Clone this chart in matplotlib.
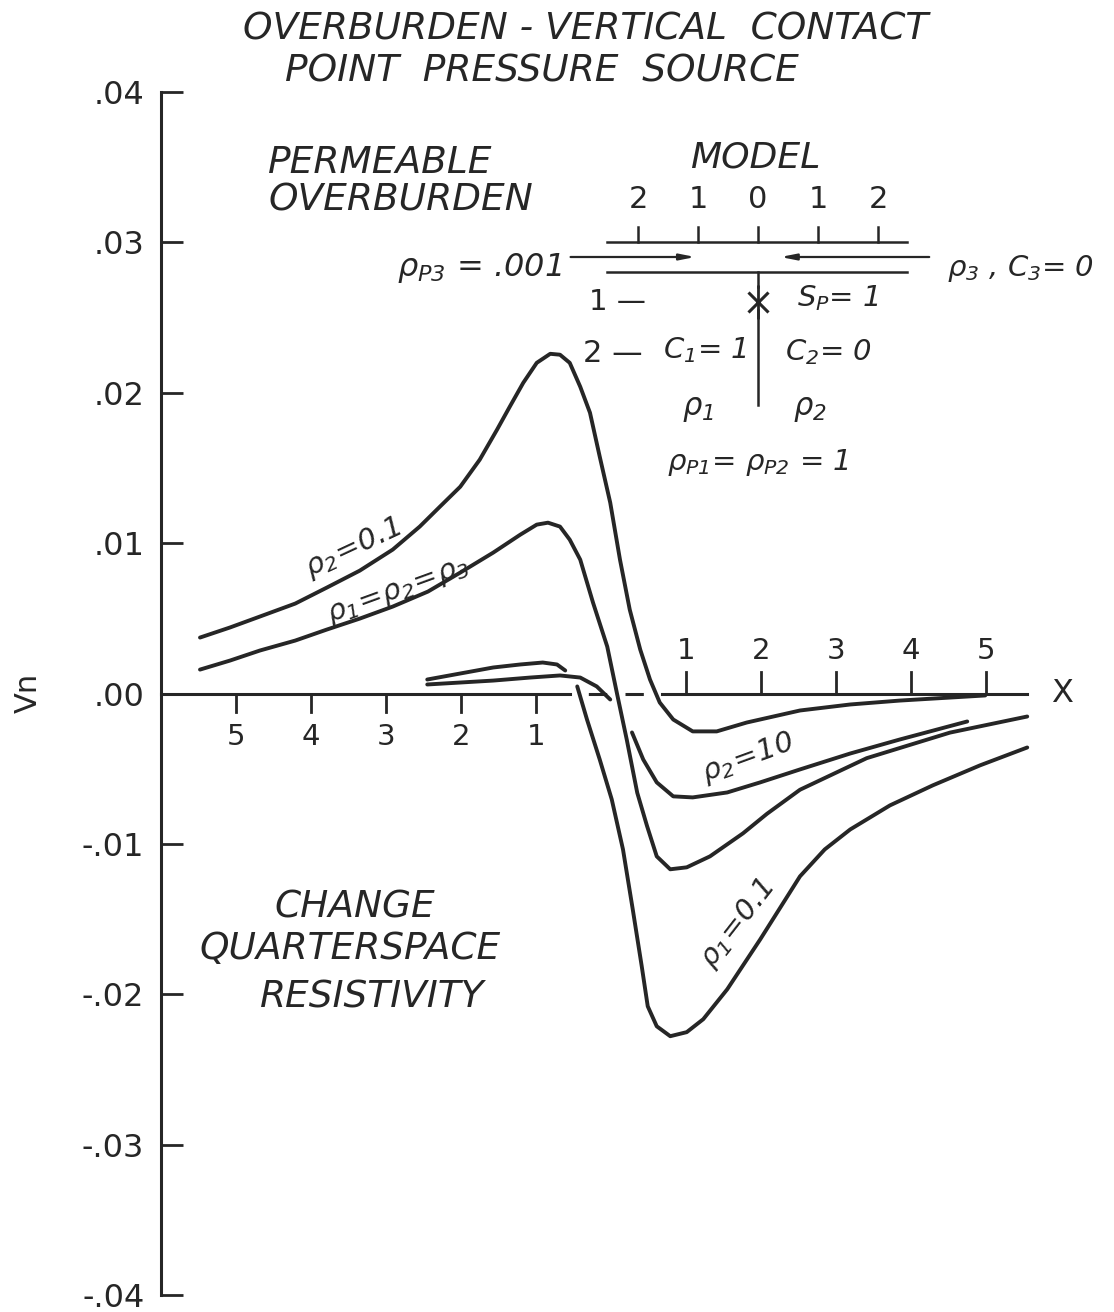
import matplotlib
matplotlib.use("Agg")
import matplotlib.pyplot as plt

plt.rcParams['font.family'] = ['DejaVu Sans']
plt.rcParams['mathtext.fontset'] = 'custom'
plt.rcParams['mathtext.rm'] = 'DejaVu Sans:italic'
plt.rcParams['mathtext.it'] = 'DejaVu Sans:italic'
plt.rcParams['mathtext.sf'] = 'DejaVu Sans:italic'

INK = '#262626'

# ---------------- data (x = distance, v = Vn) ----------------
rho2_01_x = [-5.48, -5.08, -4.68, -4.21, -3.79, -3.35, -2.91, -2.55, -2.28, -2.01, -1.75, -1.52,
             -1.35, -1.17, -0.99, -0.81, -0.68, -0.55, -0.41, -0.28, -0.15, -0.01, 0.12, 0.25,
             0.39, 0.52, 0.65, 0.83, 1.09, 1.41, 1.81, 2.52, 3.19, 3.85, 4.52, 4.99]
rho2_01_v = [0.00372, 0.00439, 0.00512, 0.00598, 0.00704, 0.00817, 0.00957, 0.0111, 0.01243,
             0.01375, 0.01555, 0.01754, 0.01907, 0.02066, 0.02199, 0.02259, 0.02253, 0.02199,
             0.0204, 0.01867, 0.01575, 0.01269, 0.0089, 0.00558, 0.00292, 0.00093, -0.0006,
             -0.00173, -0.00252, -0.00252, -0.00193, -0.00113, -0.00073, -0.00047, -0.00027,
             -0.00013]

uniform_x = [-5.48, -5.08, -4.68, -4.21, -3.79, -3.35, -2.91, -2.44, -2.01, -1.57, -1.21, -0.99,
             -0.84, -0.68, -0.55, -0.41, -0.24, -0.05, 0.08, 0.21, 0.35, 0.48, 0.61, 0.79, 1.01,
             1.32, 1.76, 2.08, 2.52, 3.41, 4.52, 5.55]
uniform_v = [0.00159, 0.00219, 0.00286, 0.00352, 0.00425, 0.00498, 0.00578, 0.00678, 0.00804,
             0.00937, 0.01056, 0.01123, 0.01136, 0.0111, 0.01023, 0.0089, 0.00605, 0.00312, 0.0,
             -0.00306, -0.0066, -0.0088, -0.01083, -0.01169, -0.01156, -0.01083, -0.0093,
             -0.0080, -0.0064, -0.0043, -0.0026, -0.00153]

rho2_10_left_x = [-2.45, -2.01, -1.57, -1.08, -0.68, -0.41, -0.19, -0.01]
rho2_10_left_v = [0.0006, 0.00073, 0.00086, 0.00106, 0.0012, 0.00106, 0.00047, -0.0004]
rho2_10_right_x = [0.28, 0.43, 0.61, 0.83, 1.09, 1.55, 1.99, 2.52, 3.19, 3.85, 4.75]
rho2_10_right_v = [-0.00259, -0.00439, -0.00591, -0.00684, -0.00691, -0.00658, -0.00591,
                   -0.00505, -0.00399, -0.00306, -0.00186]

rho1_01_left_x = [-2.45, -2.01, -1.57, -1.21, -0.91, -0.72, -0.61]
rho1_01_left_v = [0.00093, 0.00133, 0.00173, 0.00193, 0.00206, 0.00193, 0.00153]
rho1_01_right_x = [-0.45, -0.32, -0.15, 0.01, 0.16, 0.29, 0.41, 0.49, 0.61, 0.79, 1.01, 1.23,
                   1.55, 1.99, 2.52, 2.85, 3.19, 3.72, 4.29, 4.92, 5.55]
rho1_01_right_v = [0.00047, -0.00173, -0.00439, -0.00704, -0.01037, -0.01435, -0.01814, -0.0208,
                   -0.02213, -0.02279, -0.02252, -0.02166, -0.01967, -0.01635, -0.01216, -0.01037,
                   -0.00904, -0.00744, -0.00611, -0.00478, -0.00359]

y_ticks = [-0.04, -0.03, -0.02, -0.01, 0.0, 0.01, 0.02, 0.03, 0.04]
y_tick_labels = ['-.04', '-.03', '-.02', '-.01', '.00', '.01', '.02', '.03', '.04']
x_right_ticks = [1, 2, 3, 4, 5]
x_left_ticks = [-5, -4, -3, -2, -1]
model_ticks = [-2, -1, 0, 1, 2]
model_tick_labels = ['2', '1', '0', '1', '2']

# ---------------- figure ----------------
W, H = 1114, 1312
fig = plt.figure(figsize=(W / 100, H / 100), dpi=100)
fig.patch.set_facecolor('white')
ax = fig.add_axes([161 / W, 1 - 1295 / H, (1027 - 161) / W, (1295 - 92) / H])
ax.set_xlim(-6.0, 5.547)
ax.set_ylim(-0.04, 0.04)
for s in ['top', 'right', 'bottom']:
    ax.spines[s].set_visible(False)
ax.spines['left'].set_linewidth(2.2)
ax.spines['left'].set_color(INK)
ax.set_yticks(y_ticks)
ax.set_yticklabels(y_tick_labels)
ax.tick_params(axis='y', direction='in', length=16, width=2.0, color=INK,
               labelsize=23, labelcolor=INK, pad=12)
ax.set_xticks([])

curve_kw = dict(color=INK, lw=2.8, solid_capstyle='round', solid_joinstyle='round', clip_on=False)
ax.plot(rho2_01_x, rho2_01_v, **curve_kw)
ax.plot(uniform_x, uniform_v, **curve_kw)
ax.plot(rho2_10_left_x, rho2_10_left_v, **curve_kw)
ax.plot(rho2_10_right_x, rho2_10_right_v, **curve_kw)
ax.plot(rho1_01_left_x, rho1_01_left_v, **curve_kw)
ax.plot(rho1_01_right_x, rho1_01_right_v, **curve_kw)

# x axis line (solid / dashed / solid)
ax.plot([-6.0, -0.55], [0, 0], color=INK, lw=2.2, clip_on=False)
ax.plot([-0.55, 0.68], [0, 0], color=INK, lw=2.2, ls=(6, (6, 6)), clip_on=False)
ax.plot([0.68, 5.55], [0, 0], color=INK, lw=2.2, clip_on=False)
for k in x_right_ticks:
    ax.plot([k, k], [0, 0.0014], color=INK, lw=2.0)
    ax.text(k, 0.0028, str(k), ha='center', va='center', fontsize=21, color=INK)
for k in x_left_ticks:
    ax.plot([k, k], [0, -0.0012], color=INK, lw=2.0)
    ax.text(k, -0.0029, str(-k), ha='center', va='center', fontsize=21, color=INK)
ax.text(6.01, 0.0, 'X', ha='center', va='center', fontsize=23, color=INK, clip_on=False)
fig.text(28 / W, 1 - 693 / H, 'Vn', rotation=90, ha='center', va='center', fontsize=22, color=INK)

it = dict(fontstyle='italic', color=INK, ha='center', va='center')
fig.text(586 / W, 1 - 30 / H, 'OVERBURDEN - VERTICAL  CONTACT', fontsize=27, **it)
fig.text(542 / W, 1 - 72 / H, 'POINT  PRESSURE  SOURCE', fontsize=27, **it)

ax.text(-3.08, 0.03528, 'PERMEABLE', fontsize=27, **it)
ax.text(-2.80, 0.03276, 'OVERBURDEN', fontsize=27, **it)
ax.text(-3.41, -0.01422, 'CHANGE', fontsize=27, **it)
ax.text(-3.48, -0.01701, 'QUARTERSPACE', fontsize=27, **it)
ax.text(-3.19, -0.0202, 'RESISTIVITY', fontsize=27, **it)

ax.text(-3.44, 0.00963, r'$\rho_2\!=\!0.1$', rotation=25, fontsize=21, **it)
ax.text(-2.84, 0.00678, r'$\rho_1\!=\!\rho_2\!=\!\rho_3$', rotation=20, fontsize=21, **it)
ax.text(1.83, -0.00432, r'$\rho_2\!=\!10$', rotation=20, fontsize=21, **it)
ax.text(1.68, -0.01535, r'$\rho_1\!=\!0.1$', rotation=52, fontsize=21, **it)

# ---------------- model inset ----------------
dax = fig.add_axes([560 / W, 1 - 480 / H, (1100 - 560) / W, (480 - 140) / H])
dax.set_xlim(-3.3, 5.7)
dax.set_ylim(4.5, -2.3)
dax.axis('off')
lk = dict(color=INK, lw=1.8, clip_on=False)
dax.plot([-2.52, 2.48], [-0.26, -0.26], **lk)
dax.plot([-2.52, 2.48], [0.34, 0.34], **lk)
for k, lab in zip(model_ticks, model_tick_labels):
    dax.plot([k, k], [-0.26, -0.56], **lk)
    dax.text(k, -1.1, lab, ha='center', va='center', fontsize=22, color=INK)
dax.text(-0.05, -1.94, 'MODEL', fontsize=26, **it)
dax.annotate('', xy=(-1.0, 0.04), xytext=(-3.17, 0.04),
             arrowprops=dict(arrowstyle='-|>,head_length=0.9,head_width=0.18', color=INK, lw=1.6),
             annotation_clip=False)
dax.annotate('', xy=(0.33, 0.04), xytext=(2.9, 0.04),
             arrowprops=dict(arrowstyle='-|>,head_length=0.9,head_width=0.18', color=INK, lw=1.6),
             annotation_clip=False)
dax.text(-3.27, 0.26, r'$\rho_{P3}$ = .001', fontsize=23, fontstyle='italic', color=INK,
         ha='right', va='center', clip_on=False)
dax.text(3.15, 0.26, r'$\rho_3$ , $C_3$= 0', fontsize=21, fontstyle='italic', color=INK,
         ha='left', va='center', clip_on=False)
dax.plot([0, 0], [0.34, 0.64], **lk)
dax.plot([0], [0.94], marker='|', ms=24, mew=2.0, color=INK, clip_on=False)
dax.plot([0], [0.94], marker='x', ms=15, mew=2.2, color=INK, clip_on=False)
dax.plot([0, 0], [1.1, 3.0], **lk)
dax.text(0.65, 0.86, r'$S_P$= 1', fontsize=21, fontstyle='italic', color=INK,
         ha='left', va='center')
dax.text(-2.35, 0.94, '1 —', fontsize=21, color=INK, ha='center', va='center')
dax.text(-2.42, 1.96, '2 —', fontsize=22, color=INK, ha='center', va='center')
dax.text(-0.88, 1.9, r'$C_1$= 1', fontsize=21, **it)
dax.text(1.17, 1.94, r'$C_2$= 0', fontsize=21, **it)
dax.text(-1.0, 3.1, r'$\rho_1$', fontsize=22, **it)
dax.text(0.87, 3.1, r'$\rho_2$', fontsize=22, **it)
dax.text(0.0, 4.16, r'$\rho_{P1}$= $\rho_{P2}$ = 1', fontsize=21, **it)

fig.savefig('out.png', dpi=100, facecolor='white')
